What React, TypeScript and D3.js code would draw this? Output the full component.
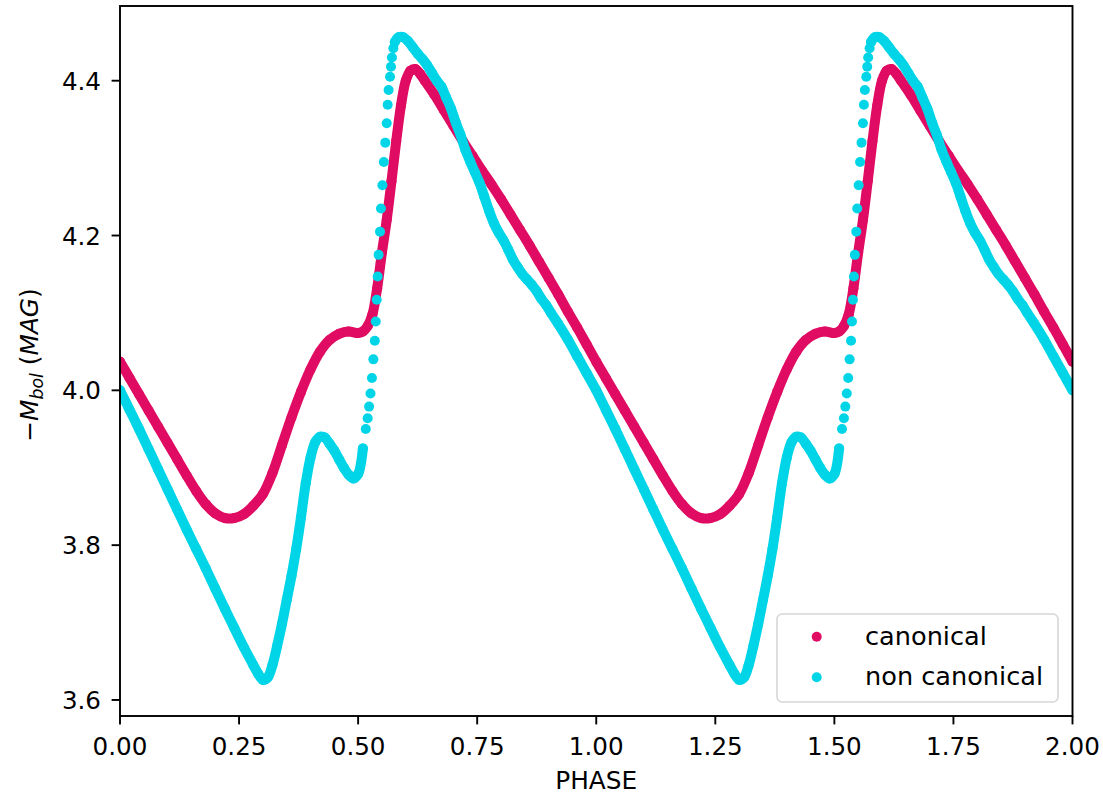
import React from 'react';
import * as d3 from 'd3';

// One pulsation cycle (phase in [0,1)); the chart repeats it over two cycles.
const canonicalPhase = [
  0.00, 0.02, 0.04, 0.06, 0.08, 0.10, 0.12, 0.14, 0.16, 0.18, 0.20, 0.22, 0.24, 0.26, 0.28,
  0.30, 0.32, 0.34, 0.36, 0.38, 0.40, 0.42, 0.44, 0.46, 0.48, 0.50, 0.51, 0.52, 0.53, 0.54,
  0.55, 0.56, 0.57, 0.58, 0.59, 0.60, 0.61, 0.62, 0.63, 0.64, 0.66, 0.68, 0.70, 0.72, 0.74,
  0.76, 0.78, 0.80, 0.82, 0.84, 0.86, 0.88, 0.90, 0.92, 0.94, 0.96, 0.98,
];
const canonicalMag = [
  4.037, 4.016, 3.995, 3.974, 3.953, 3.932, 3.911, 3.890, 3.870, 3.853, 3.841, 3.835, 3.835, 3.840, 3.851,
  3.866, 3.893, 3.929, 3.965, 3.998, 4.027, 4.050, 4.065, 4.073, 4.076, 4.074, 4.076, 4.083, 4.098, 4.132,
  4.178, 4.220, 4.270, 4.322, 4.368, 4.400, 4.413, 4.415, 4.409, 4.400, 4.382, 4.362, 4.342, 4.322, 4.303,
  4.284, 4.266, 4.247, 4.227, 4.207, 4.187, 4.166, 4.145, 4.124, 4.102, 4.081, 4.059,
];

const nonCanonicalPhase = [
  0.00, 0.02, 0.04, 0.06, 0.08, 0.10, 0.12, 0.14, 0.16, 0.18, 0.20, 0.22, 0.24, 0.26, 0.28,
  0.29, 0.30, 0.31, 0.32, 0.33, 0.34, 0.35, 0.36, 0.37, 0.38, 0.39, 0.40, 0.41, 0.42, 0.43,
  0.44, 0.45, 0.46, 0.47, 0.48, 0.49, 0.50, 0.51,
  0.516, 0.520, 0.523, 0.526, 0.529, 0.532, 0.535, 0.537, 0.539, 0.541, 0.543, 0.546, 0.548,
  0.551, 0.554, 0.557, 0.560, 0.562, 0.564, 0.567, 0.569, 0.571, 0.574, 0.577,
  0.585, 0.595, 0.605, 0.615, 0.625, 0.635, 0.645, 0.655, 0.665, 0.675, 0.685, 0.695, 0.705,
  0.715, 0.725, 0.735, 0.745, 0.755, 0.765, 0.775, 0.785, 0.795, 0.805, 0.815, 0.825, 0.835,
  0.845, 0.855, 0.865, 0.875, 0.885, 0.895, 0.905, 0.92, 0.94, 0.96, 0.98,
];
const nonCanonicalMag = [
  4.000, 3.975, 3.950, 3.924, 3.898, 3.872, 3.846, 3.820, 3.795, 3.770, 3.744, 3.718, 3.693, 3.668, 3.645,
  3.634, 3.626, 3.629, 3.645, 3.670, 3.698, 3.729, 3.760, 3.795, 3.836, 3.880, 3.913, 3.933, 3.940, 3.939,
  3.931, 3.922, 3.911, 3.900, 3.891, 3.886, 3.892, 3.925,
  3.950, 3.964, 3.979, 3.996, 4.016, 4.040, 4.064, 4.089, 4.117, 4.147, 4.175, 4.205, 4.235,
  4.265, 4.295, 4.320, 4.345, 4.369, 4.388, 4.405, 4.418, 4.430, 4.442, 4.450,
  4.456, 4.456, 4.451, 4.443, 4.435, 4.428, 4.420, 4.410, 4.400, 4.392, 4.378, 4.364, 4.346,
  4.330, 4.311, 4.296, 4.282, 4.268, 4.250, 4.232, 4.216, 4.204, 4.194, 4.182, 4.169, 4.159,
  4.150, 4.143, 4.136, 4.128, 4.118, 4.110, 4.100, 4.086, 4.066, 4.044, 4.022,
];

const cycles = [0, 1];
const xTicks = [0, 0.25, 0.5, 0.75, 1.0, 1.25, 1.5, 1.75, 2.0];
const yTicks = [3.6, 3.8, 4.0, 4.2, 4.4];
const seriesNames = ['canonical', 'non canonical'];
const seriesColors = ['#e00b62', '#00d5e8'];

type Pt = [number, number];

function unfold(phase: number[], mag: number[]): Pt[] {
  const pts: Pt[] = [];
  cycles.forEach((k) => phase.forEach((p, i) => pts.push([p + k, mag[i]])));
  pts.push([phase[0] + cycles.length, mag[0]]);
  return pts;
}

// split into runs where samples are sparse enough to be drawn as a continuous band
function runs(pts: Pt[]): Pt[][] {
  const out: Pt[][] = [];
  let cur: Pt[] = [pts[0]];
  for (let i = 1; i < pts.length; i++) {
    if (pts[i][0] - pts[i - 1][0] >= 0.0075 - 1e-9) cur.push(pts[i]);
    else {
      out.push(cur);
      cur = [pts[i]];
    }
  }
  out.push(cur);
  return out.filter((r) => r.length > 1);
}

const W = 1103;
const H = 794;
const L = 120, R = 1072.5, T = 6, B = 716;
const FONT = 'DejaVu Sans, sans-serif';

export default function App() {
  const x = d3.scaleLinear().domain([0, 2]).range([L, R]);
  const y = d3.scaleLinear().domain([3.5793, 4.4965]).range([B, T]);
  const line = d3
    .line<Pt>()
    .x((d) => x(d[0]))
    .y((d) => y(d[1]))
    .curve(d3.curveCatmullRom);

  const series = [
    unfold(canonicalPhase, canonicalMag),
    unfold(nonCanonicalPhase, nonCanonicalMag),
  ];
  const r = 5;

  return (
    <svg
      width={W}
      height={H}
      style={{ position: 'absolute', left: 0, top: 0, background: '#fff' }}
      fontFamily={FONT}
    >
      <rect x={0} y={0} width={W} height={H} fill="#fff" />
      <defs>
        <clipPath id="plotclip">
          <rect x={L} y={T} width={R - L} height={B - T} />
        </clipPath>
      </defs>
      <g clipPath="url(#plotclip)">
        {series.map((pts, si) => (
          <g key={si}>
            {runs(pts).map((run, ri) => (
              <path
                key={ri}
                d={line(run) || ''}
                fill="none"
                stroke={seriesColors[si]}
                strokeWidth={2 * r}
                strokeLinecap="round"
                strokeLinejoin="round"
              />
            ))}
            {pts.map((d, i) => (
              <circle key={i} cx={x(d[0])} cy={y(d[1])} r={r} fill={seriesColors[si]} />
            ))}
          </g>
        ))}
      </g>

      {/* frame */}
      <rect x={L} y={T} width={R - L} height={B - T} fill="none" stroke="#000" strokeWidth={1.9} />

      {/* x ticks */}
      {xTicks.map((t) => (
        <g key={t}>
          <line x1={x(t)} x2={x(t)} y1={B} y2={B + 8.4} stroke="#000" strokeWidth={1.9} />
          <text x={x(t)} y={755} textAnchor="middle" fontSize={24.6} fill="#000">
            {t.toFixed(2)}
          </text>
        </g>
      ))}
      {/* y ticks */}
      {yTicks.map((t) => (
        <g key={t}>
          <line x1={L - 8.4} x2={L} y1={y(t)} y2={y(t)} stroke="#000" strokeWidth={1.9} />
          <text x={101} y={y(t) + 9} textAnchor="end" fontSize={24.6} fill="#000">
            {t.toFixed(1)}
          </text>
        </g>
      ))}

      {/* axis labels */}
      <text x={(L + R) / 2} y={789} textAnchor="middle" fontSize={24.8} fill="#000">
        PHASE
      </text>
      <text
        transform={`translate(38, ${(T + B) / 2 + 4}) rotate(-90)`}
        textAnchor="middle"
        fontSize={24.8}
        fill="#000"
      >
        <tspan>−</tspan>
        <tspan fontStyle="italic">M</tspan>
        <tspan fontStyle="italic" fontSize={17.4} dy={5}>bol</tspan>
        <tspan dy={-5}>{'\u00a0('}</tspan>
        <tspan fontStyle="italic">MAG</tspan>
        <tspan>)</tspan>
      </text>

      {/* legend */}
      <rect x={777} y={614} width={281} height={88} rx={5} fill="#fff" fillOpacity={0.8} stroke="#d6d6d6" strokeWidth={1.6} />
      {seriesNames.map((name, i) => (
        <g key={name}>
          <circle cx={816.7} cy={636.7 + i * 40.6} r={r} fill={seriesColors[i]} />
          <text x={865} y={644.7 + i * 40.6} fontSize={25.6} fill="#000">
            {name}
          </text>
        </g>
      ))}
    </svg>
  );
}
